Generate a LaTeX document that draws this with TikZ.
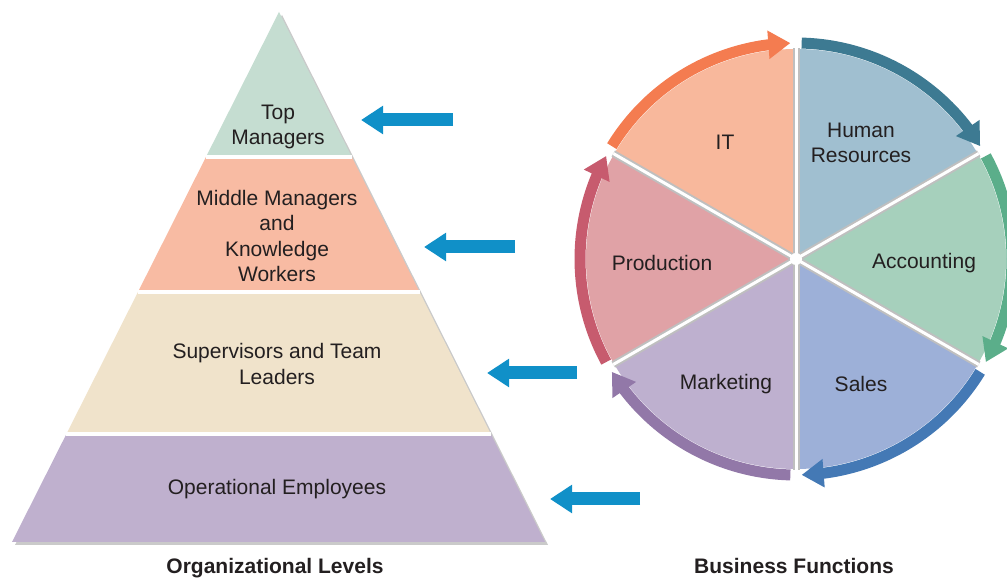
\documentclass[tikz,border=0pt]{standalone}
\usepackage{fontspec}
\setmainfont{Liberation Sans}
\usetikzlibrary{arrows.meta,bending,calc}
\definecolor{txt}{HTML}{231F20}
\definecolor{pyrA}{HTML}{C5DDD1}
\definecolor{pyrB}{HTML}{F8BBA3}
\definecolor{pyrC}{HTML}{F0E3CB}
\definecolor{pyrD}{HTML}{BFB0CE}
\definecolor{blueArr}{HTML}{1090C8}
\definecolor{itF}{HTML}{F8B89C}\definecolor{itA}{HTML}{F47C50}
\definecolor{hrF}{HTML}{A0BFD0}\definecolor{hrA}{HTML}{3D7A92}
\definecolor{acF}{HTML}{A6D0BC}\definecolor{acA}{HTML}{5BAE8A}
\definecolor{saF}{HTML}{9DB0D8}\definecolor{saA}{HTML}{4479B5}
\definecolor{maF}{HTML}{BEB0CF}\definecolor{maA}{HTML}{9278A8}
\definecolor{prF}{HTML}{E0A2A6}\definecolor{prA}{HTML}{C75B6E}
\tikzset{
  lbl/.style={text=txt, align=center, font=\fontsize{21}{25.5}\selectfont, inner sep=0pt},
  title/.style={text=txt, anchor=base, font=\fontsize{21}{25.5}\selectfont\bfseries, inner sep=0pt},
  bluearrow/.style={draw=blueArr, line width=13pt, -{Triangle[length=22pt,width=27pt]}},
  ringarrow/.style={line width=11pt, -{Triangle[length=22pt,width=27pt]}},
  sep/.style={draw=white, line width=4pt},
}
\begin{document}
\begin{tikzpicture}[x=1pt,y=1pt]
\useasboundingbox (0,0) rectangle (1007,580);
% ---------- pyramid ----------
\coordinate (apex) at (279,568);
\coordinate (bl) at (12,38);
\coordinate (br) at (545,38);
\coordinate (l1) at ($(apex)!0.2736!(bl)$);
\coordinate (r1) at ($(apex)!0.2736!(br)$);
\coordinate (l2) at ($(apex)!0.5283!(bl)$);
\coordinate (r2) at ($(apex)!0.5283!(br)$);
\coordinate (l3) at ($(apex)!0.7962!(bl)$);
\coordinate (r3) at ($(apex)!0.7962!(br)$);
\fill[black!35, opacity=0.6] ([shift={(3,-3)}]apex) -- ([shift={(3,-3)}]br) -- ([shift={(3,-3)}]bl) -- cycle;
\fill[pyrA] (apex) -- (r1) -- (l1) -- cycle;
\fill[pyrB] (l1) -- (r1) -- (r2) -- (l2) -- cycle;
\fill[pyrC] (l2) -- (r2) -- (r3) -- (l3) -- cycle;
\fill[pyrD] (l3) -- (r3) -- (br) -- (bl) -- cycle;
\draw[sep] (l1) -- (r1);
\draw[sep] (l2) -- (r2);
\draw[sep] (l3) -- (r3);
\node[lbl] (top) at (278,453) {Top\\Managers};
\node[lbl] (mid) at (277,344) {Middle Managers\\and\\Knowledge\\Workers};
\node[lbl] (sup) at (277,216) {Supervisors and Team\\Leaders};
\node[lbl] (ops) at (277,91) {Operational Employees};
\node[title] (orgt) at (275,6) {Organizational Levels};
% ---------- blue arrows ----------
\coordinate (t1) at (453,460); \coordinate (h1) at (361,460);
\coordinate (t2) at (515,333); \coordinate (h2) at (424,333);
\coordinate (t3) at (577,207); \coordinate (h3) at (487,207);
\coordinate (t4) at (640,81);  \coordinate (h4) at (550,81);
\draw[bluearrow] (t1) -- (h1);
\draw[bluearrow] (t2) -- (h2);
\draw[bluearrow] (t3) -- (h3);
\draw[bluearrow] (t4) -- (h4);
% ---------- wheel ----------
\coordinate (c) at (796,321);
\def\R{210}
\fill[itF] (c) -- ++(90:\R) arc[start angle=90,end angle=150,radius=\R] -- cycle;
\fill[hrF] (c) -- ++(30:\R) arc[start angle=30,end angle=90,radius=\R] -- cycle;
\fill[acF] (c) -- ++(-30:\R) arc[start angle=-30,end angle=30,radius=\R] -- cycle;
\fill[saF] (c) -- ++(-90:\R) arc[start angle=-90,end angle=-30,radius=\R] -- cycle;
\fill[maF] (c) -- ++(-150:\R) arc[start angle=-150,end angle=-90,radius=\R] -- cycle;
\fill[prF] (c) -- ++(150:\R) arc[start angle=150,end angle=210,radius=\R] -- cycle;
\foreach \a in {90,30,-30,-90,-150,150}{
  \draw[black!25, line width=7pt] (c) -- ++(\a:\R+1);
  \draw[white, line width=3pt] (c) -- ++(\a:\R+1);
}
\fill[white] (c) circle (6);
\def\Ra{216}
\draw[ringarrow, itA] ($(c)+(148.5:\Ra)$) arc[start angle=148.5,end angle=91.5,radius=\Ra];
\draw[ringarrow, hrA] ($(c)+(88.5:\Ra)$) arc[start angle=88.5,end angle=31.5,radius=\Ra];
\draw[ringarrow, acA] ($(c)+(28.5:\Ra)$) arc[start angle=28.5,end angle=-28.5,radius=\Ra];
\draw[ringarrow, saA] ($(c)+(-31.5:\Ra)$) arc[start angle=-31.5,end angle=-88.5,radius=\Ra];
\draw[ringarrow, maA] ($(c)+(-91.5:\Ra)$) arc[start angle=-91.5,end angle=-148.5,radius=\Ra];
\draw[ringarrow, prA] ($(c)+(-151.5:\Ra)$) arc[start angle=-151.5,end angle=-208.5,radius=\Ra];
\node[lbl] (it) at (725,438) {IT};
\node[lbl] (hr) at (861,437) {Human\\Resources};
\node[lbl] (acc) at (924,317) {Accounting};
\node[lbl] (sal) at (861,196) {Sales};
\node[lbl] (mkt) at (726,196) {Marketing};
\node[lbl] (prod) at (662,317) {Production};
\node[title] (bft) at (794,6) {Business Functions};
\end{tikzpicture}
\end{document}
